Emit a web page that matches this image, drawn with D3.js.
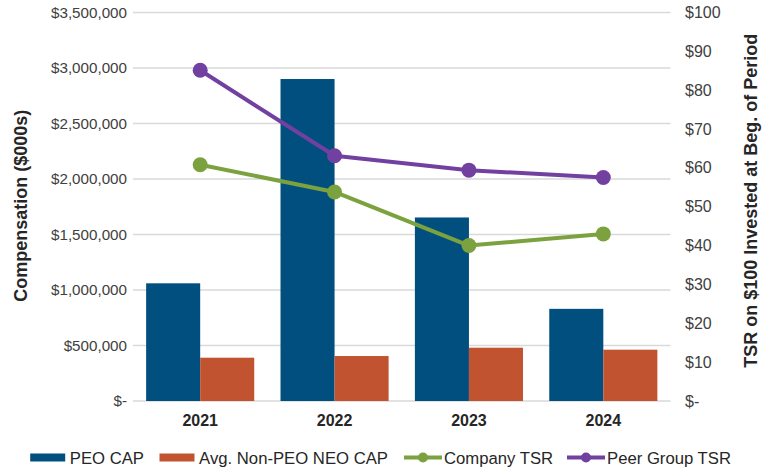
<!DOCTYPE html>
<html>
<head>
<meta charset="utf-8">
<script src="https://cdn.jsdelivr.net/npm/d3@7"></script>
<style>
  html, body { margin: 0; padding: 0; background: #ffffff; }
  svg { display: block; font-family: "Liberation Sans", Arial, Helvetica, sans-serif; }
</style>
</head>
<body>
<svg id="chart" width="763" height="469"></svg>
<script>
// ---- data ----
const years = ["2021", "2022", "2023", "2024"];
const peoCap = [1060000, 2900000, 1653000, 830000];
const neoCap = [390000, 405000, 480000, 462000];
const companyTsr = [60.8, 53.8, 40.0, 43.0];
const peerTsr = [85.1, 63.1, 59.4, 57.5];
const leftTicks = [0, 500000, 1000000, 1500000, 2000000, 2500000, 3000000, 3500000];
const rightTicks = [0, 10, 20, 30, 40, 50, 60, 70, 80, 90, 100];
const seriesNames = ["PEO CAP", "Avg. Non-PEO NEO CAP", "Company TSR", "Peer Group TSR"];

// ---- layout ----
const colors = { peo: "#004F7F", neo: "#C25330", comp: "#7BA23F", peer: "#7240A0" };
const plot = { left: 133, right: 670.5, top: 12.4, bottom: 401 };
const svg = d3.select("#chart");

const x0 = d3.scaleBand().domain(years).range([plot.left, plot.right]).padding(0);
const x1 = d3.scaleBand().domain(["peo", "neo"]).range([0, x0.bandwidth()])
  .paddingInner(0).paddingOuter(0.243);
const yL = d3.scaleLinear().domain([0, 3500000]).range([plot.bottom, plot.top]);
const yR = d3.scaleLinear().domain([0, 100]).range([plot.bottom, plot.top]);

const fmtL = v => v === 0 ? "$-" : "$" + d3.format(",")(v);
const fmtR = v => v === 0 ? "$-" : "$" + v;

// gridlines
svg.append("g").selectAll("line").data(leftTicks).join("line")
  .attr("x1", plot.left).attr("x2", plot.right)
  .attr("y1", d => yL(d)).attr("y2", d => yL(d))
  .attr("stroke", "#d9d9d9").attr("stroke-width", 1.5);

// left axis
const axL = svg.append("g").attr("transform", `translate(${plot.left},0)`)
  .call(d3.axisLeft(yL).tickValues(leftTicks).tickFormat(fmtL).tickSize(0).tickPadding(6));
axL.select(".domain").remove();
axL.selectAll("text").attr("font-size", 15.2).attr("fill", "#404040")
  .attr("font-family", "Liberation Sans, Arial, sans-serif");

// right axis
const axR = svg.append("g").attr("transform", `translate(${plot.right},0)`)
  .call(d3.axisRight(yR).tickValues(rightTicks).tickFormat(fmtR).tickSize(0).tickPadding(14.5));
axR.select(".domain").remove();
axR.selectAll("text").attr("font-size", 16).attr("fill", "#404040")
  .attr("font-family", "Liberation Sans, Arial, sans-serif");

// x axis labels
const axX = svg.append("g").attr("transform", `translate(0,${plot.bottom})`)
  .call(d3.axisBottom(x0).tickSize(0).tickPadding(14));
axX.select(".domain").remove();
axX.selectAll("text").attr("font-size", 16).attr("font-weight", "bold").attr("fill", "#262626")
  .attr("font-family", "Liberation Sans, Arial, sans-serif");

// axis titles
svg.append("text")
  .attr("transform", `translate(27,${(plot.top + plot.bottom) / 2 - 1}) rotate(-90)`)
  .attr("text-anchor", "middle").attr("font-size", 18).attr("font-weight", "bold")
  .attr("fill", "#262626").text("Compensation ($000s)");
svg.append("text")
  .attr("transform", `translate(757,${(plot.top + plot.bottom) / 2 - 6}) rotate(-90)`)
  .attr("text-anchor", "middle").attr("font-size", 18).attr("font-weight", "bold")
  .attr("fill", "#262626").text("TSR on $100 Invested at Beg. of Period");

// bars
const barData = [];
years.forEach((y, i) => {
  barData.push({ year: y, key: "peo", v: peoCap[i] });
  barData.push({ year: y, key: "neo", v: neoCap[i] });
});
svg.append("g").selectAll("rect").data(barData).join("rect")
  .attr("x", d => x0(d.year) + x1(d.key))
  .attr("width", x1.bandwidth())
  .attr("y", d => yL(d.v))
  .attr("height", d => yL(0) - yL(d.v))
  .attr("fill", d => colors[d.key]);

// lines
const cx = y => x0(y) + x0.bandwidth() / 2;
function drawLine(vals, color) {
  const pts = years.map((y, i) => [cx(y), yR(vals[i])]);
  svg.append("path").attr("d", d3.line()(pts))
    .attr("fill", "none").attr("stroke", color).attr("stroke-width", 4)
    .attr("stroke-linejoin", "round");
  svg.append("g").selectAll("circle").data(pts).join("circle")
    .attr("cx", d => d[0]).attr("cy", d => d[1]).attr("r", 7.5).attr("fill", color);
}
drawLine(companyTsr, colors.comp);
drawLine(peerTsr, colors.peer);

// legend
const legY = 457.5;
const legItems = [
  { name: seriesNames[0], type: "bar", color: colors.peo, x: 30.2 },
  { name: seriesNames[1], type: "bar", color: colors.neo, x: 159.5 },
  { name: seriesNames[2], type: "line", color: colors.comp, x: 404 },
  { name: seriesNames[3], type: "line", color: colors.peer, x: 567 }
];
const lg = svg.append("g");
legItems.forEach(it => {
  const g = lg.append("g").attr("transform", `translate(${it.x},${legY})`);
  if (it.type === "bar") {
    g.append("rect").attr("x", 0).attr("y", -4).attr("width", 35).attr("height", 8).attr("fill", it.color);
    g.append("text").attr("x", 39.6).attr("y", 0).attr("dy", "0.36em")
      .attr("font-size", 16.7).attr("fill", "#262626").text(it.name);
  } else {
    g.append("line").attr("x1", 0).attr("x2", 38).attr("y1", 0).attr("y2", 0)
      .attr("stroke", it.color).attr("stroke-width", 4);
    g.append("circle").attr("cx", 19).attr("cy", 0).attr("r", 5).attr("fill", it.color);
    g.append("text").attr("x", 40).attr("y", 0).attr("dy", "0.36em")
      .attr("font-size", 16.7).attr("fill", "#262626").text(it.name);
  }
});
</script>
</body>
</html>
